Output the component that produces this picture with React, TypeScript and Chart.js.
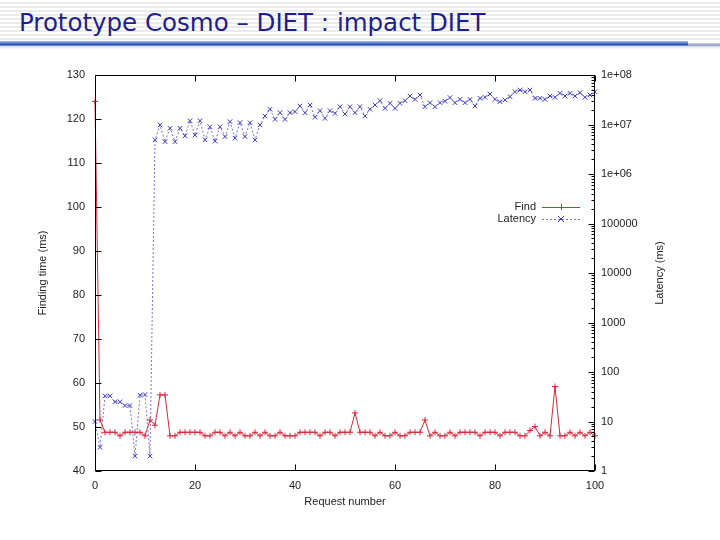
import React, { useEffect, useRef } from "react";
import { Chart, registerables } from "chart.js";

Chart.register(...registerables);

const titleText = "Prototype Cosmo – DIET : impact DIET";
const xTitle = "Request number";
const yTitle = "Finding time (ms)";
const y2Title = "Latency (ms)";
const seriesNames = ["Find", "Latency"];

const findValues = [
  124, 51.6, 48.8, 48.8, 48.8, 48, 48.8, 48.8, 48.8, 48.8,
  48, 51.6, 50.4, 57.3, 57.3, 48, 48, 48.8, 48.8, 48.8,
  48.8, 48.8, 48, 48, 48.8, 48.8, 48, 48.8, 48, 48.8,
  48, 48, 48.8, 48, 48.8, 48, 48, 48.8, 48, 48,
  48, 48.8, 48.8, 48.8, 48.8, 48, 48.8, 48.8, 48, 48.8,
  48.8, 48.8, 53.2, 48.8, 48.8, 48.8, 48, 48.8, 48, 48,
  48.8, 48, 48, 48.8, 48.8, 48.8, 51.6, 48, 48.8, 48,
  48, 48.8, 48, 48.8, 48.8, 48.8, 48.8, 48, 48.8, 48.8,
  48.8, 48, 48.8, 48.8, 48.8, 48, 48, 49.2, 50.1, 48,
  48.8, 48, 59.2, 48, 48, 48.8, 48, 48.8, 48, 48.8,
  48,
];

const latencyValues = [
  10, 3, 33, 33, 25, 25, 21, 21, 2, 34,
  35, 2, 4.9e6, 9.8e6, 4.5e6, 8.4e6, 4.5e6, 8.4e6, 5.9e6, 1.19e7,
  6.1e6, 1.19e7, 4.9e6, 9.0e6, 4.6e6, 9.0e6, 5.7e6, 1.14e7, 5.3e6, 1.09e7,
  5.7e6, 1.09e7, 4.9e6, 9.8e6, 1.48e7, 2.03e7, 1.27e7, 1.73e7, 1.27e7, 1.73e7,
  1.82e7, 2.36e7, 1.73e7, 2.48e7, 1.4e7, 1.9e7, 1.33e7, 1.9e7, 1.68e7, 2.29e7,
  1.63e7, 2.29e7, 1.73e7, 2.29e7, 1.48e7, 2.03e7, 2.48e7, 3.03e7, 2.12e7, 2.68e7,
  2.12e7, 2.68e7, 3.03e7, 3.76e7, 3.22e7, 3.94e7, 2.29e7, 2.76e7, 2.29e7, 2.76e7,
  2.95e7, 3.5e7, 2.76e7, 3.22e7, 2.76e7, 3.22e7, 2.36e7, 3.38e7, 3.54e7, 4.13e7,
  3.22e7, 2.89e7, 3.13e7, 3.65e7, 4.6e7, 4.98e7, 4.6e7, 4.98e7, 3.38e7, 3.38e7,
  3.22e7, 3.76e7, 3.54e7, 4.27e7, 3.76e7, 4.27e7, 3.76e7, 4.4e7, 3.54e7, 3.94e7,
  4.6e7,
];

const xTicks = [0, 20, 40, 60, 80, 100];
const yTicks = [40, 50, 60, 70, 80, 90, 100, 110, 120, 130];
const y2Ticks = [1, 10, 100, 1000, 10000, 100000, 1e6, 1e7, 1e8];
const y2TickLabels = ["1", "10", "100", "1000", "10000", "100000", "1e+06", "1e+07", "1e+08"];

const RED = "#d8283a";
const BLUE = "#3a3ac8";
const BLUE_LINE = "rgba(70,70,200,0.75)";
const FONT = '"Liberation Sans", Arial, sans-serif';

const framePlugin = {
  id: "gnuplotFrame",
  afterDraw(chart: any) {
    const ctx = chart.ctx;
    const { left, right, top, bottom } = chart.chartArea;
    const xs = chart.scales.x;
    const ys = chart.scales.y;
    const y2s = chart.scales.y2;
    ctx.save();
    ctx.strokeStyle = "#000";
    ctx.lineWidth = 1;
    const L = Math.round(left) + 0.5;
    const R = Math.round(right) - 0.5;
    const T = Math.round(top) + 0.5;
    const B = Math.round(bottom) - 0.5;
    ctx.strokeRect(L, T, R - L, B - T);
    ctx.beginPath();
    xTicks.forEach((v) => {
      const px = Math.round(xs.getPixelForValue(v)) + 0.5;
      ctx.moveTo(px, B);
      ctx.lineTo(px, B - 6);
      ctx.moveTo(px, T);
      ctx.lineTo(px, T + 6);
    });
    yTicks.forEach((v) => {
      const py = Math.round(ys.getPixelForValue(v)) + 0.5;
      ctx.moveTo(L, py);
      ctx.lineTo(L + 6, py);
    });
    y2Ticks.forEach((v, i) => {
      const py = Math.round(y2s.getPixelForValue(v)) + 0.5;
      ctx.moveTo(R, py);
      ctx.lineTo(R - 6, py);
      if (i < y2Ticks.length - 1) {
        for (let m = 2; m <= 9; m++) {
          const pm = Math.round(y2s.getPixelForValue(v * m)) + 0.5;
          ctx.moveTo(R, pm);
          ctx.lineTo(R - 3, pm);
        }
      }
    });
    ctx.stroke();

    // axis titles
    ctx.fillStyle = "#222";
    ctx.font = `11px ${FONT}`;
    ctx.textAlign = "center";
    ctx.textBaseline = "middle";
    ctx.fillText(xTitle, (left + right) / 2, 502);
    ctx.save();
    ctx.translate(43, (top + bottom) / 2);
    ctx.rotate(-Math.PI / 2);
    ctx.fillText(yTitle, 0, 0);
    ctx.restore();
    ctx.save();
    ctx.translate(660, (top + bottom) / 2);
    ctx.rotate(-Math.PI / 2);
    ctx.fillText(y2Title, 0, 0);
    ctx.restore();

    // legend
    const lx0 = 542;
    const lx1 = 580;
    const rows = [207, 219];
    ctx.textAlign = "right";
    rows.forEach((ry, i) => {
      ctx.fillStyle = "#222";
      ctx.fillText(seriesNames[i], 536, ry);
      ctx.beginPath();
      ctx.lineWidth = 1;
      if (i === 0) {
        ctx.strokeStyle = RED;
        ctx.setLineDash([]);
      } else {
        ctx.strokeStyle = BLUE_LINE;
        ctx.setLineDash([2, 2]);
      }
      ctx.moveTo(lx0, ry + 0.5);
      ctx.lineTo(lx1, ry + 0.5);
      ctx.stroke();
      ctx.setLineDash([]);
      const cx = (lx0 + lx1) / 2;
      ctx.beginPath();
      ctx.strokeStyle = i === 0 ? RED : BLUE;
      if (i === 0) {
        ctx.moveTo(cx - 3, ry + 0.5);
        ctx.lineTo(cx + 3, ry + 0.5);
        ctx.moveTo(cx + 0.5, ry - 3);
        ctx.lineTo(cx + 0.5, ry + 3);
      } else {
        ctx.moveTo(cx - 3, ry - 3);
        ctx.lineTo(cx + 3, ry + 3);
        ctx.moveTo(cx + 3, ry - 3);
        ctx.lineTo(cx - 3, ry + 3);
      }
      ctx.stroke();
    });
    ctx.restore();
  },
};

export default function App() {
  const canvasRef = useRef<HTMLCanvasElement | null>(null);

  useEffect(() => {
    const canvas = canvasRef.current;
    if (!canvas) return;
    const findData = findValues.map((v, i) => ({ x: i, y: v }));
    const latencyData = latencyValues.map((v, i) => ({ x: i, y: v }));
    const tickFont = { family: FONT, size: 11 };
    const chart = new Chart(canvas, {
      type: "line",
      data: {
        datasets: [
          {
            label: seriesNames[0],
            data: findData,
            yAxisID: "y",
            borderColor: RED,
            backgroundColor: RED,
            borderWidth: 1,
            pointStyle: "cross",
            pointRadius: 3,
            pointBorderWidth: 1,
            pointBorderColor: RED,
            tension: 0,
            fill: false,
            clip: false,
          },
          {
            label: seriesNames[1],
            data: latencyData,
            yAxisID: "y2",
            borderColor: BLUE_LINE,
            backgroundColor: BLUE,
            borderWidth: 1,
            borderDash: [2, 2],
            pointStyle: "crossRot",
            pointRadius: 3.2,
            pointBorderWidth: 1,
            pointBorderColor: BLUE,
            tension: 0,
            fill: false,
            clip: false,
          },
        ],
      },
      options: {
        animation: false,
        responsive: false,
        maintainAspectRatio: false,
        events: [],
        layout: { padding: { top: 75, left: 0, right: 0, bottom: 0 }, autoPadding: false },
        plugins: {
          legend: { display: false },
          tooltip: { enabled: false },
          title: { display: false },
        },
        scales: {
          x: {
            type: "linear",
            min: 0,
            max: 100,
            grid: { display: false, drawTicks: false },
            border: { display: false },
            afterBuildTicks: (scale: any) => {
              scale.ticks = xTicks.map((v) => ({ value: v }));
            },
            afterFit: (scale: any) => {
              scale.height = 69;
            },
            ticks: { font: tickFont, color: "#222", padding: 8, maxRotation: 0, autoSkip: false },
          },
          y: {
            type: "linear",
            position: "left",
            min: 40,
            max: 130,
            grid: { display: false, drawTicks: false },
            border: { display: false },
            afterBuildTicks: (scale: any) => {
              scale.ticks = yTicks.map((v) => ({ value: v }));
            },
            afterFit: (scale: any) => {
              scale.width = 95;
            },
            ticks: { font: tickFont, color: "#222", padding: 10, autoSkip: false },
          },
          y2: {
            type: "logarithmic",
            position: "right",
            min: 1,
            max: 1e8,
            grid: { display: false, drawTicks: false },
            border: { display: false },
            afterBuildTicks: (scale: any) => {
              scale.ticks = y2Ticks.map((v) => ({ value: v }));
            },
            afterFit: (scale: any) => {
              scale.width = 125;
            },
            ticks: {
              font: tickFont,
              color: "#222",
              padding: 6,
              autoSkip: false,
              callback: (value: any) => {
                const idx = y2Ticks.indexOf(Number(value));
                return idx >= 0 ? y2TickLabels[idx] : "";
              },
            },
          },
        },
      },
      plugins: [framePlugin],
    } as any);
    return () => chart.destroy();
  }, []);

  return (
    <div
      style={{
        position: "fixed",
        left: 0,
        top: 0,
        width: 720,
        height: 540,
        background: "#fff",
        overflow: "hidden",
      }}
    >
      <div
        style={{
          position: "absolute",
          left: 0,
          top: 0,
          width: 720,
          height: 42,
          background:
            "repeating-linear-gradient(to bottom, #ffffff 0px, #ffffff 2px, #ebebeb 2px, #ebebeb 4px)",
        }}
      />
      <div
        style={{
          position: "absolute",
          left: 0,
          top: 41,
          width: 688,
          height: 5,
          background: "linear-gradient(to bottom, #a9c0ee 0%, #5577cc 45%, #2c4fb0 70%, #8fa6de 100%)",
        }}
      />
      <div
        style={{
          position: "absolute",
          left: 688,
          top: 43,
          width: 32,
          height: 3,
          background: "linear-gradient(to bottom, #c8d0e0, #8f9bb8)",
        }}
      />
      <div
        style={{
          position: "absolute",
          left: 0,
          top: 46,
          width: 720,
          height: 3,
          background: "linear-gradient(to bottom, #d8dce6, #ffffff)",
        }}
      />
      <div
        style={{
          position: "absolute",
          left: 19,
          top: 8,
          fontFamily: '"DejaVu Sans", Verdana, sans-serif',
          fontSize: 24.5,
          color: "#1e1e8e",
          whiteSpace: "nowrap",
          lineHeight: "30px",
        }}
      >
        {titleText}
      </div>
      <canvas
        ref={canvasRef}
        width={720}
        height={540}
        style={{ position: "absolute", left: 0, top: 0, width: 720, height: 540 }}
      />
    </div>
  );
}
